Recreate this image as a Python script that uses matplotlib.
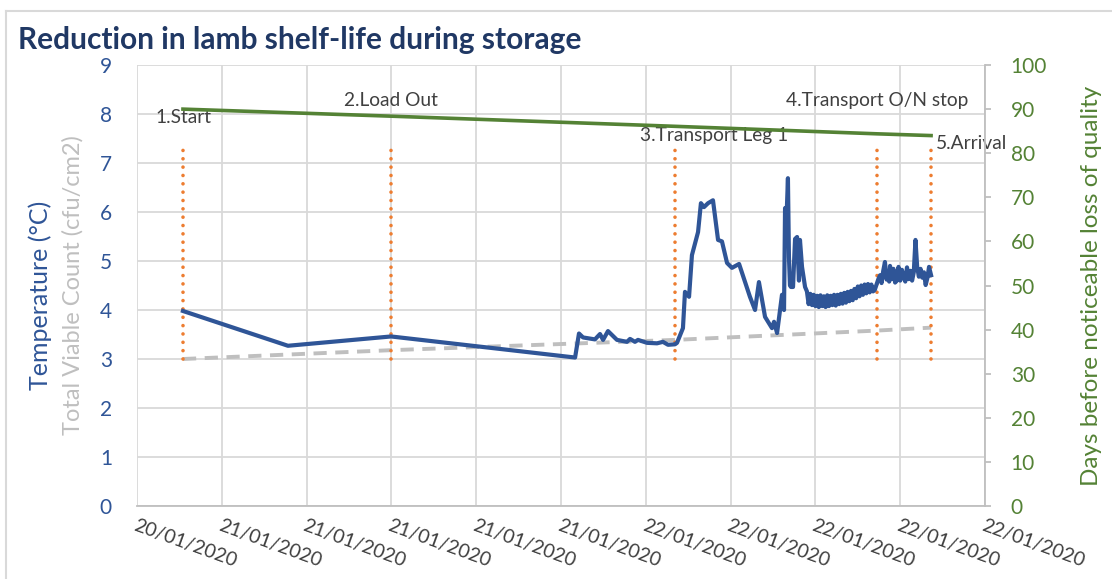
import pandas as pd
import matplotlib
matplotlib.use("Agg")
import matplotlib.pyplot as plt
import matplotlib.dates as mdates
from matplotlib.lines import Line2D

plt.rcParams['font.family'] = ['Lato', 'DejaVu Sans']

# axis start and tick spacing (Excel date axis, 5 hour major unit)
t0 = pd.Timestamp('2020-01-20 20:00')
tick_hours = [0, 5, 10, 15, 20, 25, 30, 35, 40, 45, 50]

# event markers (hours after t0)
event_hours = [2.71, 14.98, 31.72, 43.62, 46.82]
event_labels = ['1.Start', '2.Load Out', '3.Transport Leg 1', '4.Transport O/N stop', '5.Arrival']
event_top = 7.3
event_bottom = 3.0

# days before noticeable loss of quality (right axis), at the events
shelf_days = [90.0, 88.4, 86.1, 84.4, 84.0]

# total viable count (left axis), at the events
tvc = [3.0, 3.18, 3.39, 3.58, 3.64]

# logged temperature
temp_hours = [2.71, 8.90, 14.98, 25.83, 26.06, 26.30, 27.0, 27.3, 27.48, 27.77,
              28.3, 28.89, 29.07, 29.36, 29.54, 30.07, 30.66, 31.01, 31.31, 31.72,
              31.84, 32.19, 32.31, 32.55, 32.72, 33.08, 33.25, 33.43, 33.67, 33.96,
              34.26, 34.49, 34.79, 35.08, 35.50, 36.14, 36.44, 36.67, 37.03, 37.44,
              37.56, 37.74, 38.03, 38.15, 38.21, 38.30, 38.38, 38.44, 38.50, 38.56,
              38.68, 38.80, 38.92, 39.03, 39.09, 39.21, 39.39,
              39.5, 39.6, 39.7, 39.8, 39.9, 40.0, 40.1, 40.2, 40.3, 40.4,
              40.5, 40.6, 40.7, 40.8, 40.9, 41.0, 41.1, 41.2, 41.3, 41.4,
              41.5, 41.6, 41.7, 41.8, 41.9, 42.0, 42.1, 42.2, 42.3, 42.4,
              42.5, 42.6, 42.7, 42.8, 42.9, 43.0, 43.1, 43.2, 43.3, 43.4, 43.5,
              43.7, 43.81, 43.9, 44.0, 44.1, 44.2, 44.26, 44.35, 44.4, 44.5,
              44.6, 44.7, 44.8, 44.9, 45.0, 45.1, 45.2, 45.3, 45.4, 45.5,
              45.6, 45.7, 45.8, 45.9, 46.0, 46.1, 46.2, 46.3, 46.4, 46.5,
              46.6, 46.7, 46.82]
temp_c = [3.98, 3.27, 3.46, 3.03, 3.52, 3.44, 3.40, 3.51, 3.39, 3.57,
          3.39, 3.35, 3.41, 3.35, 3.39, 3.33, 3.32, 3.35, 3.29, 3.30,
          3.33, 3.63, 4.37, 4.27, 5.12, 5.59, 6.18, 6.10, 6.18, 6.24,
          5.43, 5.40, 4.96, 4.86, 4.94, 4.27, 4.00, 4.57, 3.86, 3.63,
          3.76, 3.53, 4.31, 4.00, 6.08, 5.90, 6.69, 5.08, 4.50, 4.47,
          4.47, 5.45, 5.49, 4.60, 5.43, 4.88, 4.47,
          4.38, 4.12, 4.33, 4.10, 4.31, 4.08, 4.29, 4.06, 4.30, 4.08,
          4.28, 4.06, 4.30, 4.08, 4.29, 4.10, 4.31, 4.09, 4.31, 4.12,
          4.33, 4.13, 4.35, 4.15, 4.37, 4.18, 4.39, 4.20, 4.43, 4.24,
          4.48, 4.28, 4.50, 4.31, 4.52, 4.34, 4.53, 4.36, 4.52, 4.38, 4.41,
          4.62, 4.71, 4.55, 4.80, 4.98, 4.62, 4.76, 4.58, 4.90, 4.63,
          4.84, 4.56, 4.60, 4.88, 4.60, 4.82, 4.68, 4.58, 4.87, 4.63,
          4.80, 4.60, 4.77, 5.43, 4.88, 4.68, 4.84, 4.66, 4.77, 4.51,
          4.65, 4.88, 4.71]


def to_time(hours):
    return t0 + pd.to_timedelta(hours, unit='h')


blue = '#2F5597'
green = '#548235'
grey = '#BFBFBF'
orange = '#ED7D31'
text_grey = '#404040'

fig = plt.figure(figsize=(11.12, 5.79), dpi=100)
ax = fig.add_axes([0.1232, 0.1261, 0.7626, 0.7616])
ax2 = ax.twinx()

ev_t = to_time(event_hours)
ax.vlines(ev_t, event_bottom, event_top, colors=orange, linewidth=2.6,
          linestyles=(0, (0.01, 2.3)), zorder=3)
for line in ax.collections:
    line.set_capstyle('round')

ax.plot(ev_t, tvc, color=grey, linewidth=2.8, dashes=(3.4, 2.2), zorder=2)
ax.plot(to_time(temp_hours), temp_c, color=blue, linewidth=3.0,
        solid_joinstyle='round', zorder=4)
ax2.plot(ev_t, shelf_days, color=green, linewidth=2.6)

# event labels, placed like the Excel data labels
label_offsets = [(0, 31, 'center'), (0, 48, 'center'), (39, 13, 'center'),
                 (0, 48, 'center'), (5, 5, 'left')]
for t, lab, (dx, dy, ha) in zip(ev_t, event_labels, label_offsets):
    ax.annotate(lab, (t, event_top), xytext=(dx, dy), textcoords='offset pixels',
                ha=ha, va='center', fontsize=13.8, color=text_grey, zorder=6)

ax.set_ylim(0, 9)
ax2.set_ylim(0, 100)
ax.set_xlim(to_time(0), to_time(50))
ax.set_xticks(to_time(tick_hours))
ax.xaxis.set_major_formatter(mdates.DateFormatter('%d/%m/%Y'))
ax.set_yticks(range(0, 10))
ax2.set_yticks(range(0, 101, 10))

ax.grid(True, color='#D9D9D9', linewidth=1.3)
ax.set_axisbelow(True)
for sp in ['top', 'left']:
    ax.spines[sp].set_visible(False)
    ax2.spines[sp].set_visible(False)
ax.spines['bottom'].set_color('#BFBFBF')
ax.spines['bottom'].set_linewidth(1.3)
ax.spines['right'].set_visible(False)
ax2.spines['bottom'].set_visible(False)
ax2.spines['right'].set_color('#BFBFBF')
ax2.spines['right'].set_linewidth(1.3)

ax.tick_params(axis='y', length=0, labelsize=15, labelcolor=blue, pad=18)
ax.tick_params(axis='x', length=0, labelsize=14, labelcolor=text_grey, pad=8)
ax2.tick_params(axis='y', length=4.5, width=1.3, color='#BFBFBF', labelsize=15,
                labelcolor=green, pad=14)
for lab in ax.get_xticklabels():
    lab.set_rotation(-20)
    lab.set_ha('left')
    lab.set_va('top')
    lab.set_rotation_mode('anchor')

ax.set_ylabel('Total Viable Count (cfu/cm2)', color=grey, fontsize=17)
ax.yaxis.set_label_coords(-0.063, 0.5)
fig.text(0.036, 0.49, 'Temperature (°C)', color=blue, fontsize=18,
         rotation=90, ha='center', va='center')
ax2.set_ylabel('Days before noticeable loss of quality', color=green, fontsize=17.5)
ax2.yaxis.set_label_coords(1.113, 0.5)

fig.text(0.016, 0.931, 'Reduction in lamb shelf-life during storage',
         fontsize=21.5, fontweight='bold', color='#203864', ha='left', va='center')

# chart area border
fig.add_artist(Line2D([0.0054, 0.0054], [0.0, 0.981], color='#D9D9D9', linewidth=1.5))
fig.add_artist(Line2D([0.0054, 1.0], [0.981, 0.981], color='#D9D9D9', linewidth=1.5))

fig.savefig('out.png', dpi=100)
